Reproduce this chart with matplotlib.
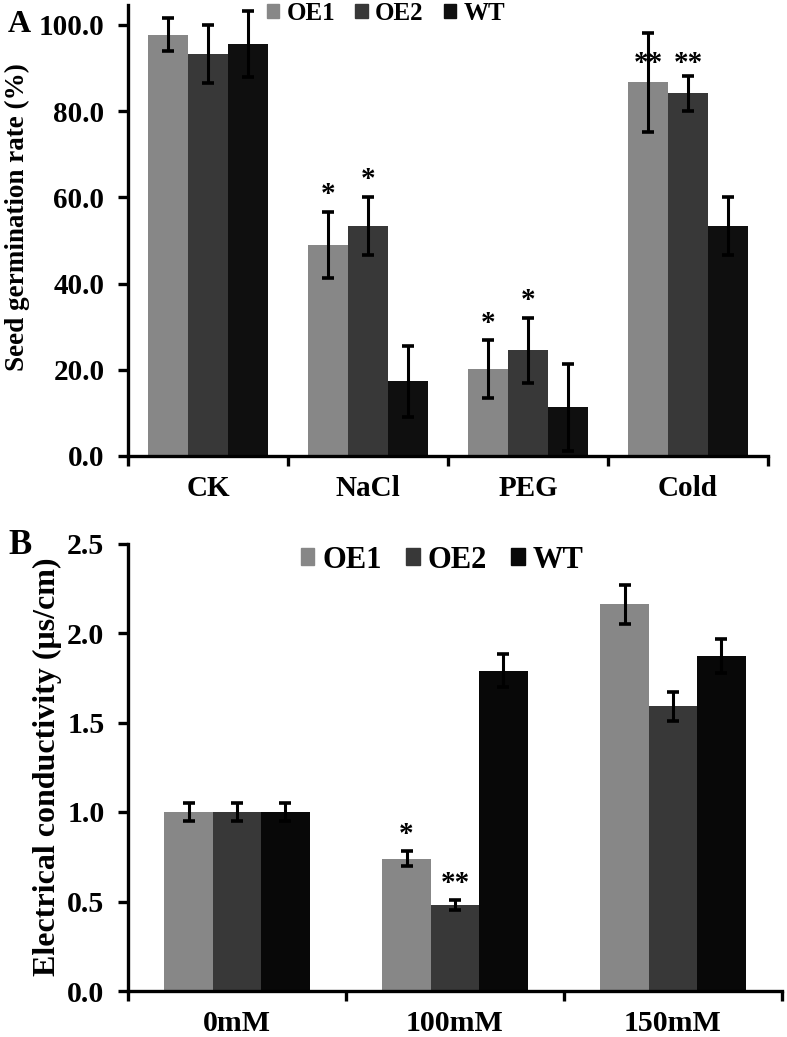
import matplotlib
matplotlib.use('Agg')
import matplotlib.pyplot as plt
import numpy as np
from matplotlib.patches import Patch

plt.rcParams['font.family'] = ['Liberation Serif', 'DejaVu Serif']
plt.rcParams['font.weight'] = 'bold'

#------------------------- data -------------------------
lines = ['OE1', 'OE2', 'WT']
colors_a = ['#878787', '#383838', '#0f0f0f']
colors_b = ['#878787', '#383838', '#080808']

# panel A: seed germination rate (%)
treat_a = ['CK', 'NaCl', 'PEG', 'Cold']
germ_oe1 = [97.7, 49.0, 20.1, 86.7]
germ_oe2 = [93.2, 53.4, 24.5, 84.1]
germ_wt = [95.6, 17.3, 11.3, 53.4]
germ_oe1_err = [3.8, 7.7, 6.7, 11.5]
germ_oe2_err = [6.8, 6.7, 7.6, 4.0]
germ_wt_err = [7.7, 8.3, 10.1, 6.7]
stars_a = [['', '', ''], ['*', '*', ''], ['*', '*', ''], ['**', '**', '']]

# panel B: electrical conductivity (us/cm)
treat_b = ['0mM', '100mM', '150mM']
ec_oe1 = [1.00, 0.74, 2.16]
ec_oe2 = [1.00, 0.48, 1.59]
ec_wt = [1.00, 1.79, 1.87]
ec_oe1_err = [0.05, 0.04, 0.11]
ec_oe2_err = [0.05, 0.027, 0.08]
ec_wt_err = [0.05, 0.09, 0.095]
stars_b = [['', '', ''], ['*', '**', ''], ['', '', '']]


def style_axis(ax, ncat, ytick_fmt, lsize):
    for s in ['top', 'right']:
        ax.spines[s].set_visible(False)
    for s in ['left', 'bottom']:
        ax.spines[s].set_linewidth(2.4)
    ax.set_xlim(-0.5, ncat - 0.5)
    # category boundary tick marks
    ax.set_xticks(np.arange(ncat + 1) - 0.5, minor=True)
    ax.tick_params(axis='x', which='minor', length=7, width=2.4, direction='out')
    ax.tick_params(axis='x', which='major', length=0, pad=14, labelsize=lsize)
    ax.tick_params(axis='y', which='major', length=7, width=2.4, direction='out', pad=10, labelsize=lsize)
    ax.yaxis.set_major_formatter(matplotlib.ticker.FormatStrFormatter(ytick_fmt))


def draw_bars(ax, cats, vals, errs, colors, width, stars, star_y):
    x = np.arange(len(cats))
    for i in range(3):
        xi = x + (i - 1) * width
        ax.bar(xi, vals[i], width, color=colors[i], edgecolor='none', zorder=2)
        ax.errorbar(xi, vals[i], yerr=errs[i], fmt='none', ecolor='black',
                    elinewidth=2.2, capsize=4, capthick=2.6, zorder=3)
    for c in range(len(cats)):
        for i in range(3):
            if stars[c][i]:
                top = vals[i][c] + errs[i][c]
                y = star_y(c, i, top)
                ax.text(x[c] + (i - 1) * width, y, stars[c][i], ha='center', va='bottom',
                        fontsize=21, fontweight='bold', zorder=4)
    ax.set_xticks(x)
    ax.set_xticklabels(cats, fontweight='bold')


fig = plt.figure(figsize=(7.87, 10.37), dpi=100)

#------------------------- panel A -------------------------
axA = fig.add_axes([128/787, 1-456/1037, 640/787, (456-5)/1037])
def star_a(c, i, top):
    if treat_a[c] == 'Cold':
        return 88.0
    return top + 0.8
draw_bars(axA, treat_a, [germ_oe1, germ_oe2, germ_wt],
          [germ_oe1_err, germ_oe2_err, germ_wt_err], colors_a, 0.25, stars_a, star_a)
style_axis(axA, len(treat_a), '%.1f', 21)
axA.set_ylabel('Seed germination rate (%)', fontsize=19.5, fontweight='bold')
axA.yaxis.set_label_coords(-0.153, 0.53)
axA.set_ylim(0, 104.6)
axA.set_yticks(np.arange(0, 101, 20))
axA.legend(handles=[Patch(color=c, label=l) for c, l in zip(colors_a, lines)],
           loc='center', bbox_to_anchor=(386/787, 1-13/1037), bbox_transform=fig.transFigure,
           ncol=3, frameon=False, fontsize=18, handlelength=0.5, handleheight=0.5,
           handletextpad=0.3, columnspacing=0.8, borderpad=0, borderaxespad=0)
fig.text(8/787, 1-25/1037, 'A', fontsize=23, fontweight='bold', va='center', ha='left')

#------------------------- panel B -------------------------
axB = fig.add_axes([128/787, 1-991/1037, 654/787, (991-543.5)/1037])
def star_b(c, i, top):
    return top + 0.02
draw_bars(axB, treat_b, [ec_oe1, ec_oe2, ec_wt],
          [ec_oe1_err, ec_oe2_err, ec_wt_err], colors_b, 0.222, stars_b, star_b)
style_axis(axB, len(treat_b), '%.1f', 21.5)
axB.set_ylim(0, 2.5)
axB.set_yticks(np.arange(0, 2.51, 0.5))
axB.set_ylabel('Electrical conductivity (\u03bcs/cm)', fontsize=23, fontweight='bold', labelpad=4)
axB.legend(handles=[Patch(color=c, label=l) for c, l in zip(colors_b, lines)],
           loc='center', bbox_to_anchor=(442/787, 1-560/1037), bbox_transform=fig.transFigure,
           ncol=3, frameon=False, fontsize=22, handlelength=0.45, handleheight=0.45,
           handletextpad=0.25, columnspacing=0.8, borderpad=0, borderaxespad=0)
fig.text(8/787, 1-545/1037, 'B', fontsize=25, fontweight='bold', va='center', ha='left')

fig.savefig('out.png', dpi=100)
